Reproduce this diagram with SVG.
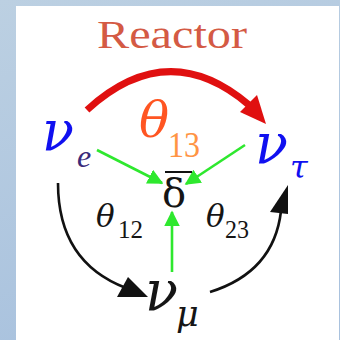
<svg xmlns="http://www.w3.org/2000/svg" width="340" height="340" viewBox="0 0 340 340">
  <defs>
    <linearGradient id="bg" x1="0" y1="0" x2="0.3" y2="1">
      <stop offset="0" stop-color="#bcd0e2"/>
      <stop offset="1" stop-color="#a9c2de"/>
    </linearGradient>
    <marker id="ag" viewBox="0 0 10 10" refX="9" refY="5" markerWidth="6" markerHeight="6" orient="auto" markerUnits="strokeWidth">
      <path d="M0,0 L10,5 L0,10 Z" fill="#2ee82e"/>
    </marker>
    <style>
      .s { font-family: "Liberation Serif", "Times New Roman", serif; }
      .gr { font-family: "DejaVu Serif", serif; }
      .i { font-style: italic; }
      .nu { fill: #1010f0; font-size: 56px; }
      .blk { fill: #151515; }
      .g { stroke: #2ee82e; stroke-width: 2.6; fill: none; marker-end: url(#ag); }
      .k { stroke: #111; stroke-width: 2.6; fill: none; }
    </style>
  </defs>
  <rect x="0" y="0" width="340" height="340" fill="url(#bg)"/>
  <rect x="16" y="6" width="323" height="334" fill="#ffffff"/>

  <text class="s" x="97" y="48" font-size="40" fill="#d45a44" textLength="150" lengthAdjust="spacingAndGlyphs">Reactor</text>

  <g id="connectors">
    <path d="M87,110 Q168,36 249,105" stroke="#e01010" stroke-width="7" fill="none"/>
    <polygon points="240,112 257,95 266,124" fill="#e01010"/>
    <line class="g" x1="97" y1="150" x2="162" y2="183"/>
    <line class="g" x1="245" y1="145" x2="186" y2="184"/>
    <line class="g" x1="172" y1="272" x2="172" y2="212"/>
    <path class="k" d="M58,183 Q58,262 126,288"/>
    <polygon points="117,297 128,277 148,297" fill="#111"/>
    <path class="k" d="M210,292 Q274,272 281,211"/>
    <polygon points="270,212 288,214 288,185" fill="#111"/>
  </g>

  <g id="nu_e">
    <text class="gr i nu" x="42" y="150" textLength="32" lengthAdjust="spacingAndGlyphs">ν</text>
    <text class="s i" x="77" y="167" font-size="32" fill="#3a2a7a">e</text>
  </g>
  <g id="nu_tau">
    <text class="gr i nu" x="255" y="163" textLength="33" lengthAdjust="spacingAndGlyphs">ν</text>
    <text class="gr i" x="290" y="178" font-size="32" fill="#1010f0">τ</text>
  </g>
  <g id="nu_mu">
    <text class="gr i nu blk" x="145" y="310" textLength="33" lengthAdjust="spacingAndGlyphs">ν</text>
    <text class="gr i blk" x="176" y="326" font-size="35">μ</text>
  </g>
  <g id="delta">
    <line x1="165" y1="172" x2="192" y2="172" stroke="#111" stroke-width="2"/>
    <text class="gr blk" x="162" y="207" font-size="40">δ</text>
  </g>
  <g id="theta13">
    <text class="gr i" x="139" y="137" font-size="50" fill="#ff5522">θ</text>
    <text class="s" x="168" y="157" font-size="36" fill="#ff9444" textLength="32" lengthAdjust="spacingAndGlyphs">13</text>
  </g>
  <g id="theta12">
    <text class="gr i blk" x="96" y="227" font-size="31">θ</text>
    <text class="s blk" x="118" y="238" font-size="26" textLength="25" lengthAdjust="spacingAndGlyphs">12</text>
  </g>
  <g id="theta23">
    <text class="gr i blk" x="206" y="227" font-size="31">θ</text>
    <text class="s blk" x="225" y="238" font-size="26" textLength="24" lengthAdjust="spacingAndGlyphs">23</text>
  </g>
</svg>
